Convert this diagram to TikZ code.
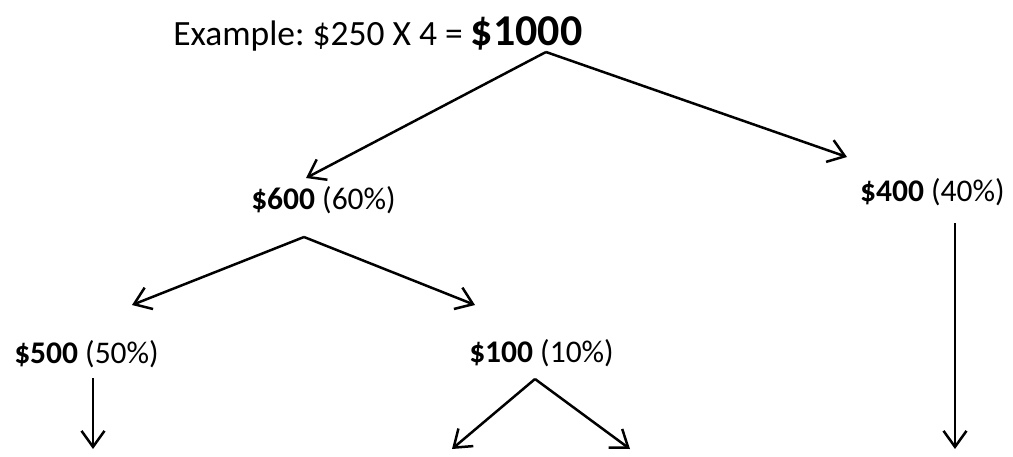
\documentclass[tikz,border=0pt]{standalone}
\usepackage{fontspec}
\setmainfont{Carlito}
\usetikzlibrary{arrows.meta}

\tikzset{
	arr/.style={-{Straight Barb[length=16pt,width=23pt,line width=2.5pt]}},
	amount/.style={anchor=base west,inner sep=0pt,font=\fontsize{31.5}{32}\selectfont}
}

\begin{document}
\frenchspacing
\begin{tikzpicture}[x=1pt,y=-1pt,line width=2.5pt]

		\useasboundingbox (0,0) rectangle (1013,456);

		% title
		\node[amount,font=\fontsize{35.5}{36}\selectfont] (total) at (172,45)
			{Example: \$250 X 4 = {\fontsize{44}{44}\selectfont\bfseries \$1000}};

		%---------------------
		% first split
		%---------------------
		\node[amount] (n600) at (250,209) {\textbf{\$600} (60\%)};
		\node[amount,anchor=base east] (n400) at (1006,201) {\textbf{\$400} (40\%)};

		\coordinate (a1000) at (546,52);
		\coordinate (t600) at (306,178);
		\coordinate (t400) at (847,157);
		\draw[arr] (a1000) -- (t600);
		\draw[arr] (a1000) -- (t400);

		%---------------------
		% second split
		%---------------------
		\node[amount] (n500) at (13,363) {\textbf{\$500} (50\%)};
		\node[amount] (n100) at (468,362) {\textbf{\$100} (10\%)};

		\coordinate (a600) at (304,237);
		\coordinate (t500) at (132,305);
		\coordinate (t100) at (475,305);
		\draw[arr] (a600) -- (t500);
		\draw[arr] (a600) -- (t100);

		%---------------------
		% bottom arrows
		%---------------------
		% $500
		\coordinate (a500) at (93,378);
		\coordinate (e500) at (93,449);
		\draw[arr] (a500) -- (e500);

		% $100
		\coordinate (a100) at (535,379);
		\coordinate (e100l) at (452,449);
		\coordinate (e100r) at (630,449);
		\draw[arr] (a100) -- (e100l);
		\draw[arr] (a100) -- (e100r);

		% $400
		\coordinate (a400) at (955,223);
		\coordinate (e400) at (955,449);
		\draw[arr] (a400) -- (e400);

\end{tikzpicture}
\end{document}
